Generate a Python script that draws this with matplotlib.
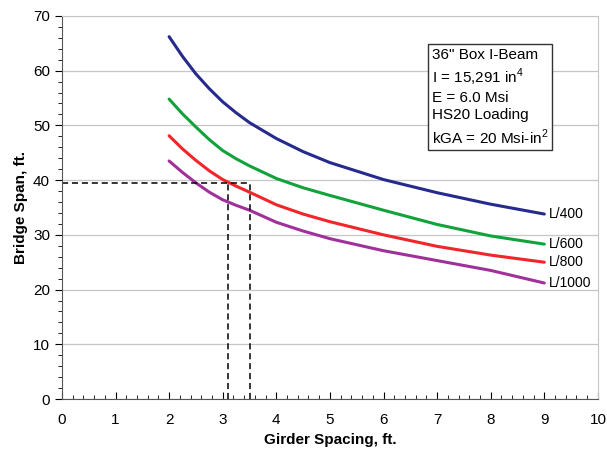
import matplotlib.pyplot as plt
from matplotlib.ticker import MultipleLocator

plt.rcParams['font.family'] = ['Liberation Sans', 'DejaVu Sans']
plt.rcParams['mathtext.fontset'] = 'custom'
plt.rcParams['mathtext.rm'] = 'Liberation Sans'

# girder spacing (ft) and bridge span (ft) for each deflection limit
spacing = [2, 2.25, 2.5, 2.75, 3, 3.25, 3.5, 4, 4.5, 5, 6, 7, 8, 9]
span_400 = [66.2, 62.6, 59.4, 56.7, 54.3, 52.3, 50.5, 47.6, 45.2, 43.2, 40.1, 37.7, 35.6, 33.8]
span_600 = [54.8, 52.1, 49.7, 47.4, 45.4, 43.9, 42.6, 40.3, 38.6, 37.2, 34.5, 31.9, 29.8, 28.3]
span_800 = [48.1, 45.7, 43.6, 41.7, 40.1, 38.9, 37.8, 35.5, 33.8, 32.4, 30.0, 27.9, 26.3, 25.0]
span_1000 = [43.5, 41.4, 39.5, 37.8, 36.4, 35.4, 34.5, 32.3, 30.7, 29.3, 27.1, 25.3, 23.5, 21.2]

labels = ["L/400", "L/600", "L/800", "L/1000"]
colors = ["#262a8c", "#12a23c", "#f0262a", "#a0309a"]

# design example read-off
design_span = 39.4
spacing_lo = 3.1
spacing_hi = 3.5

fig = plt.figure(figsize=(6.07, 4.54), dpi=100)
ax = fig.add_axes([0.102, 0.121, 0.883, 0.844])

for ys, lab, c in zip([span_400, span_600, span_800, span_1000], labels, colors):
    ax.plot(spacing, ys, color=c, lw=2.2, solid_capstyle='round', solid_joinstyle='round')
    ax.text(spacing[-1] + 0.08, ys[-1], lab, fontsize=10, va='center', ha='left')

ax.plot([0, spacing_hi], [design_span, design_span], 'k--', lw=1.1, dashes=(4, 2.5))
ax.plot([spacing_lo, spacing_lo], [0, design_span], 'k--', lw=1.1, dashes=(4, 2.5))
ax.plot([spacing_hi, spacing_hi], [0, design_span], 'k--', lw=1.1, dashes=(4, 2.5))

ax.set_xlim(0, 10)
ax.set_ylim(0, 70)
ax.xaxis.set_major_locator(MultipleLocator(1))
ax.xaxis.set_minor_locator(MultipleLocator(0.2))
ax.yaxis.set_major_locator(MultipleLocator(10))
ax.yaxis.set_minor_locator(MultipleLocator(2))
ax.yaxis.grid(True, which='major', color='#c8c4c8', lw=0.9)
ax.set_axisbelow(True)

ax.tick_params(axis='x', which='major', direction='in', length=5, labelsize=11, pad=10)
ax.tick_params(axis='x', which='minor', direction='in', length=3)
ax.tick_params(axis='y', which='major', direction='out', length=5, labelsize=11)
ax.tick_params(axis='y', which='minor', direction='out', length=3)

for s in ['top', 'right']:
    ax.spines[s].set_color('#c8c4c8')
for s in ['left', 'bottom']:
    ax.spines[s].set_color('#555555')

ax.set_xlabel("Girder Spacing, ft.", fontsize=11, fontweight='bold', labelpad=4)
ax.set_ylabel("Bridge Span, ft.", fontsize=11, fontweight='bold', labelpad=4)

box_text = ("36\" Box I-Beam\n"
            "I = 15,291 in$^4$\n"
            "E = 6.0 Msi\n"
            "HS20 Loading\n"
            "kGA = 20 Msi-in$^2$")
ax.text(6.9, 64.2, box_text, fontsize=11, va='top', ha='left', linespacing=1.3,
        bbox=dict(boxstyle='square,pad=0.25', fc='white', ec='#333333', lw=1))

fig.savefig("out.png", dpi=100)
